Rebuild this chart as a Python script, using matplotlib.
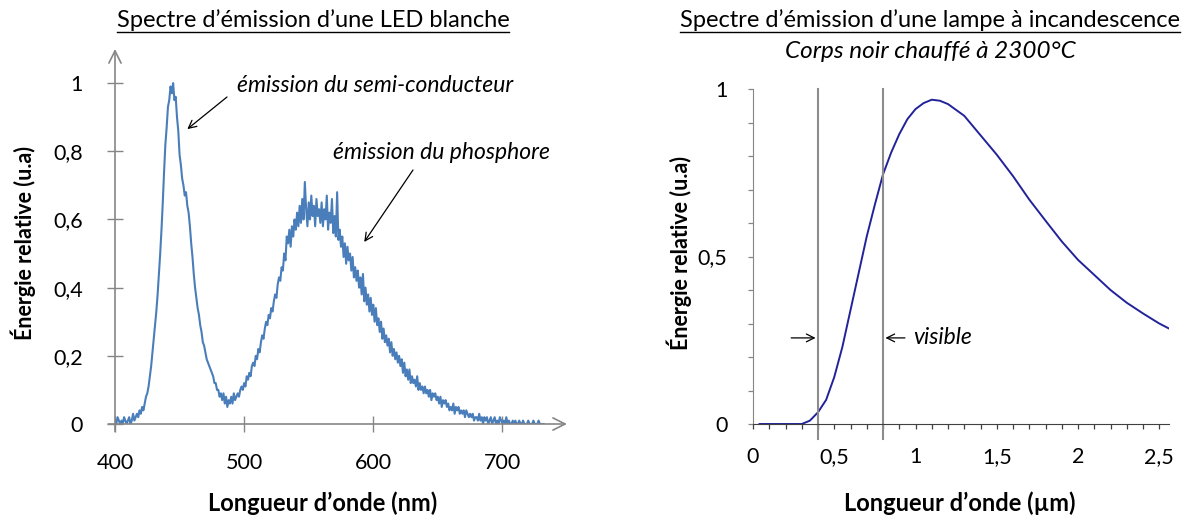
import matplotlib
matplotlib.use("Agg")
import matplotlib.pyplot as plt
import numpy as np
from matplotlib.ticker import FuncFormatter, MultipleLocator
from matplotlib.lines import Line2D

plt.rcParams['font.family'] = ['Lato', 'DejaVu Sans']

# --- LED blanche : spectre relevé tous les nm (400 -> 732 nm) ---
led_nm = np.arange(400, 733)
led_val = [
    0.01, 0.00, 0.02, 0.01, 0.00, 0.01, 0.00, 0.02, 0.01, 0.00,
    0.01, 0.02, 0.00, 0.01, 0.03, 0.01, 0.02, 0.03, 0.02, 0.04,
    0.03, 0.05, 0.04, 0.06, 0.08, 0.09, 0.11, 0.14, 0.17, 0.21,
    0.25, 0.29, 0.33, 0.38, 0.44, 0.50, 0.57, 0.65, 0.74, 0.82,
    0.87, 0.93, 0.95, 0.99, 0.97, 1.00, 0.95, 0.96, 0.90, 0.86,
    0.79, 0.76, 0.72, 0.70, 0.67, 0.68, 0.64, 0.62, 0.58, 0.53,
    0.49, 0.44, 0.40, 0.37, 0.34, 0.32, 0.29, 0.27, 0.24, 0.23,
    0.21, 0.19, 0.18, 0.17, 0.16, 0.15, 0.14, 0.12, 0.12, 0.10,
    0.10, 0.08, 0.09, 0.07, 0.09, 0.06, 0.08, 0.05, 0.07, 0.06,
    0.08, 0.06, 0.09, 0.07, 0.08, 0.09, 0.08, 0.10, 0.11, 0.10,
    0.12, 0.11, 0.14, 0.13, 0.15, 0.14, 0.17, 0.18, 0.17, 0.20,
    0.19, 0.22, 0.21, 0.24, 0.26, 0.25, 0.28, 0.30, 0.29, 0.32,
    0.31, 0.34, 0.33, 0.36, 0.38, 0.37, 0.41, 0.43, 0.42, 0.46,
    0.45, 0.50, 0.48, 0.55, 0.53, 0.57, 0.52, 0.58, 0.55, 0.60,
    0.57, 0.62, 0.58, 0.64, 0.59, 0.66, 0.60, 0.71, 0.63, 0.58,
    0.65, 0.60, 0.67, 0.61, 0.64, 0.58, 0.66, 0.61, 0.63, 0.59,
    0.65, 0.58, 0.63, 0.60, 0.67, 0.57, 0.62, 0.59, 0.66, 0.56,
    0.61, 0.55, 0.68, 0.54, 0.57, 0.52, 0.55, 0.49, 0.53, 0.47,
    0.52, 0.48, 0.50, 0.45, 0.49, 0.43, 0.46, 0.42, 0.45, 0.40,
    0.43, 0.38, 0.44, 0.36, 0.40, 0.35, 0.38, 0.33, 0.37, 0.32,
    0.35, 0.30, 0.34, 0.29, 0.31, 0.27, 0.30, 0.25, 0.28, 0.24,
    0.26, 0.23, 0.25, 0.21, 0.24, 0.20, 0.22, 0.19, 0.21, 0.18,
    0.20, 0.17, 0.19, 0.15, 0.18, 0.14, 0.16, 0.13, 0.16, 0.12,
    0.14, 0.12, 0.13, 0.11, 0.14, 0.10, 0.12, 0.10, 0.11, 0.09,
    0.11, 0.09, 0.10, 0.08, 0.10, 0.07, 0.09, 0.08, 0.09, 0.07,
    0.08, 0.06, 0.08, 0.05, 0.07, 0.06, 0.07, 0.05, 0.06, 0.04,
    0.05, 0.04, 0.06, 0.03, 0.05, 0.04, 0.05, 0.03, 0.04, 0.03,
    0.04, 0.02, 0.04, 0.03, 0.02, 0.03, 0.02, 0.03, 0.01, 0.02,
    0.02, 0.01, 0.03, 0.01, 0.02, 0.00, 0.02, 0.01, 0.02, 0.00,
    0.01, 0.02, 0.00, 0.01, 0.02, 0.00, 0.01, 0.00, 0.02, 0.01,
    0.00, 0.01, 0.00, 0.02, 0.00, 0.01, 0.00, 0.00, 0.01, 0.00,
    0.01, 0.00, 0.00, 0.01, 0.00, 0.00, 0.01, 0.00, 0.00, 0.00,
    0.01, 0.00, 0.00, 0.00, 0.01, 0.00, 0.00, 0.00, 0.01, 0.00,
    0.00, 0.00, 0.00,
]
led_xticks = [400, 500, 600, 700]
led_yticks = [0, 0.2, 0.4, 0.6, 0.8, 1]

# --- corps noir à 2300°C ---
cn_um = [0.04, 0.1, 0.2, 0.3, 0.35, 0.4, 0.45, 0.5, 0.55, 0.6, 0.65, 0.7,
         0.75, 0.8, 0.85, 0.9, 0.95, 1.0, 1.05, 1.1, 1.15, 1.2, 1.3, 1.4,
         1.5, 1.6, 1.7, 1.8, 1.9, 2.0, 2.1, 2.2, 2.3, 2.4, 2.5, 2.56]
cn_val = [0.0, 0.0, 0.0, 0.0, 0.01, 0.035, 0.072, 0.14, 0.23, 0.34, 0.45,
          0.56, 0.655, 0.745, 0.81, 0.865, 0.91, 0.94, 0.958, 0.968, 0.965,
          0.955, 0.92, 0.862, 0.804, 0.74, 0.67, 0.607, 0.545, 0.49, 0.445,
          0.40, 0.362, 0.33, 0.30, 0.285]
visible_lim = [0.4, 0.8]

W, H = 1189, 520
fig = plt.figure(figsize=(W / 100, H / 100), dpi=100)


def fx(px):
    return px / W


def fy(py):
    return 1 - py / H


def virgule(v, pos):
    return ('%g' % v).replace('.', ',')


def titre_souligne(txt, x, y, size):
    t = fig.text(fx(x), fy(y), txt, ha='center', va='center', fontsize=size)
    fig.canvas.draw()
    bb = t.get_window_extent()
    yl = (bb.y0 - 1) / H
    fig.add_artist(Line2D([bb.x0 / W, bb.x1 / W], [yl, yl], color='black', lw=1.0))
    return t


gris = '#868686'
fleche = dict(arrowstyle='->', color='black', lw=0.9, shrinkA=0, shrinkB=0,
              mutation_scale=14)

# ================== LED ==================
ax1 = fig.add_axes([fx(115), fy(424), fx(567) - fx(115), fy(49) - fy(424)])
ax1.plot(led_nm, led_val, color='#4a7ebb', lw=1.5)
ax1.set_xlim(400, 750)
ax1.set_ylim(0, 1.1)
for s in ['top', 'right', 'left', 'bottom']:
    ax1.spines[s].set_visible(False)
ax1.annotate('', xy=(1.0, 0), xytext=(-0.015, 0), xycoords='axes fraction',
             arrowprops=dict(arrowstyle='->', color=gris, lw=1.2,
                             mutation_scale=22, shrinkA=0, shrinkB=0))
ax1.annotate('', xy=(0, 1.0), xytext=(0, -0.02), xycoords='axes fraction',
             arrowprops=dict(arrowstyle='->', color=gris, lw=1.2,
                             mutation_scale=22, shrinkA=0, shrinkB=0))
ax1.set_xticks(led_xticks)
ax1.set_yticks(led_yticks)
ax1.yaxis.set_major_formatter(FuncFormatter(virgule))
ax1.tick_params(axis='both', direction='inout', length=12, width=1.0,
                color=gris, labelsize=15.5)
ax1.tick_params(axis='y', pad=17)
ax1.tick_params(axis='x', pad=15)

ax1.annotate('', xy=(456, 0.865), xytext=(227, H - 97),
             textcoords='figure pixels', arrowprops=fleche)
fig.text(fx(237), fy(85), 'émission du semi-conducteur', fontsize=16.5,
         style='italic', va='center', ha='left')
ax1.annotate('', xy=(593, 0.534), xytext=(413, H - 170),
             textcoords='figure pixels', arrowprops=fleche)
fig.text(fx(333), fy(152), 'émission du phosphore', fontsize=16.5,
         style='italic', va='center', ha='left')

# ================== Corps noir ==================
ax2 = fig.add_axes([fx(753), fy(424), fx(1169) - fx(753), fy(89) - fy(424)])
ax2.plot(cn_um, cn_val, color='#22229a', lw=1.4)
ax2.set_xlim(0, 2.56)
ax2.set_ylim(0, 1)
ax2.spines['top'].set_visible(False)
ax2.spines['right'].set_visible(False)
ax2.spines['left'].set_color(gris)
ax2.spines['bottom'].set_color('#404040')
ax2.xaxis.set_major_locator(MultipleLocator(0.5))
ax2.xaxis.set_minor_locator(MultipleLocator(0.1))
ax2.yaxis.set_major_locator(MultipleLocator(0.5))
ax2.yaxis.set_minor_locator(MultipleLocator(0.1))
ax2.xaxis.set_major_formatter(FuncFormatter(virgule))
ax2.yaxis.set_major_formatter(FuncFormatter(virgule))
ax2.tick_params(axis='both', which='both', direction='out', length=3.5,
                width=0.9, labelsize=15.5)
ax2.tick_params(axis='x', which='both', color='#404040', pad=13)
ax2.tick_params(axis='y', which='both', color=gris, pad=15)
for v in visible_lim:
    ax2.plot([v, v], [-0.045, 1.0], color='#8c8c8c', lw=1.5, clip_on=False)

ax2.annotate('', xy=(0.385, 0.257), xytext=(0.235, 0.257), arrowprops=fleche)
ax2.annotate('', xy=(0.815, 0.257), xytext=(0.935, 0.257), arrowprops=fleche)
ax2.text(0.985, 0.257, 'visible', fontsize=16.5, style='italic', va='center')

# ================== textes ==================
fig.text(fx(23), fy(243), 'Énergie relative (u.a)', rotation=90, ha='center',
         va='center', fontsize=15.5, fontweight='bold')
fig.text(fx(323), fy(503), 'Longueur d\u2019onde (nm)', ha='center', va='center',
         fontsize=17, fontweight='bold')
fig.text(fx(679), fy(253), 'Énergie relative (u.a)', rotation=90, ha='center',
         va='center', fontsize=15.5, fontweight='bold')
fig.text(fx(960), fy(503), 'Longueur d\u2019onde (µm)', ha='center', va='center',
         fontsize=17, fontweight='bold')
fig.text(fx(930), fy(52), 'Corps noir chauffé à 2300°C', ha='center', va='center',
         fontsize=17.5, style='italic')

titre_souligne('Spectre d\u2019émission d\u2019une LED blanche', 313, 20, 17)
titre_souligne('Spectre d\u2019émission d\u2019une lampe à incandescence', 930, 20, 17)

fig.savefig('out.png', dpi=100)
